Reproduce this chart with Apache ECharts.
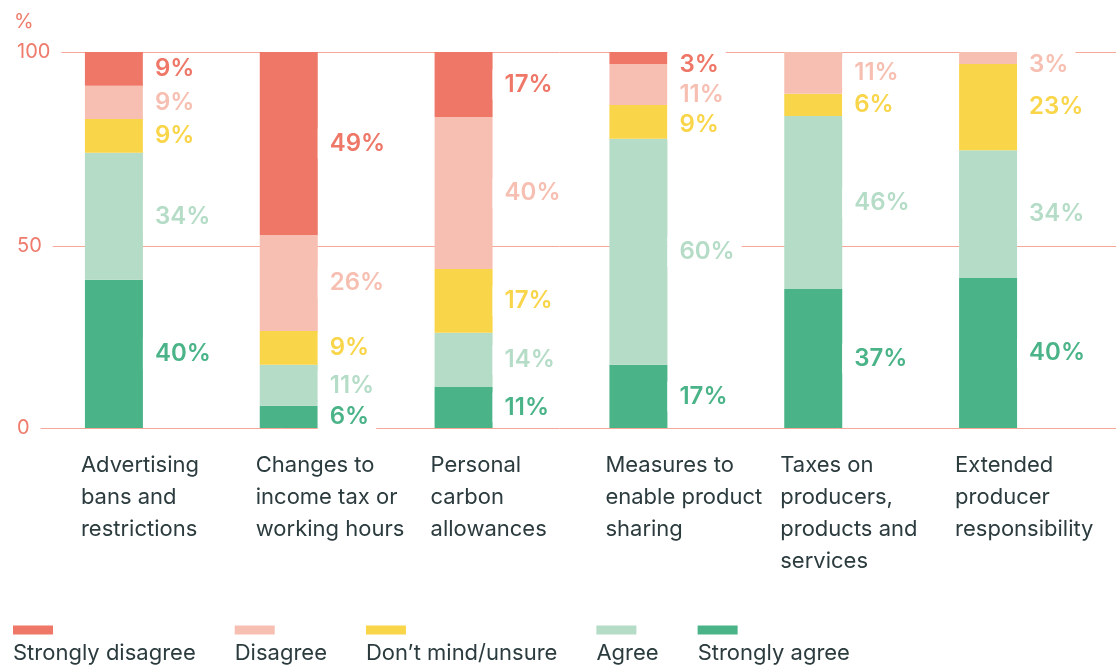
<!DOCTYPE html>
<html>
<head>
<meta charset="utf-8">
<script src="https://cdn.jsdelivr.net/npm/echarts@6/dist/echarts.min.js"></script>
<style>
  html, body { margin: 0; padding: 0; background: #ffffff; }
  #chart { width: 1116px; height: 666px; }
</style>
</head>
<body>
<div id="chart"></div>
<script>
// ---------- data ----------
const categories = [
  'Advertising\nbans and\nrestrictions',
  'Changes to\nincome tax or\nworking hours',
  'Personal\ncarbon\nallowances',
  'Measures to\nenable product\nsharing',
  'Taxes on\nproducers,\nproducts and\nservices',
  'Extended\nproducer\nresponsibility'
];
const seriesNames = ['Strongly agree', 'Agree', 'Don\u2019t mind/unsure', 'Disagree', 'Strongly disagree'];
const legendOrder = ['Strongly disagree', 'Disagree', 'Don\u2019t mind/unsure', 'Agree', 'Strongly agree'];

// bar segment sizes (share of bar height, %)
const stronglyAgree    = [39.4, 5.9, 10.9, 16.8, 37.0, 39.9];
const agree            = [33.8, 10.9, 14.4, 60.1, 46.0, 34.0];
const dontMind         = [9.0, 9.0, 17.0, 9.0, 5.9, 22.9];
const disagree         = [8.8, 25.5, 40.4, 10.9, 11.1, 3.2];
const stronglyDisagree = [9.0, 48.7, 17.3, 3.2, 0, 0];

// printed labels (%)
const lblStronglyAgree    = [40, 6, 11, 17, 37, 40];
const lblAgree            = [34, 11, 14, 60, 46, 34];
const lblDontMind         = [9, 9, 17, 9, 6, 23];
const lblDisagree         = [9, 26, 40, 11, 11, 3];
const lblStronglyDisagree = [9, 49, 17, 3, null, null];

// y axis ticks as drawn in the reference
const yTickValues = [0, 48.4, 100];
const yTickLabels = ['0', '50', '100'];

// ---------- styling ----------
const colors = ['#4AB388', '#B5DCC6', '#F9D54A', '#F7BFB2', '#EE7767'];
const FONT = 'Inter, "Noto Sans", sans-serif';
const TEXT_DARK = '#2B3B3E';
const AXIS_RED = '#EE7B6B';
const GRID_LINE = '#F6A797';

const values = [stronglyAgree, agree, dontMind, disagree, stronglyDisagree];
const labels = [lblStronglyAgree, lblAgree, lblDontMind, lblDisagree, lblStronglyDisagree];

// label de-overlap (in value units), top label clamped under the 100 line
const GAP = 8, TOP = 96.7;
const shifts = values.map(() => categories.map(() => 0));
categories.forEach((c, ci) => {
  let cum = 0; const centers = [];
  for (let s = 0; s < values.length; s++) { centers[s] = cum + values[s][ci] / 2; cum += values[s][ci]; }
  let prev = Infinity;
  for (let s = values.length - 1; s >= 0; s--) {
    if (labels[s][ci] == null) continue;
    const p = Math.min(centers[s], TOP, prev - GAP);
    shifts[s][ci] = centers[s] - p;
    prev = p;
  }
});

const series = seriesNames.map((name, s) => ({
  name,
  type: 'bar',
  stack: 'total',
  xAxisIndex: 1,
  yAxisIndex: 1,
  barWidth: 58,
  itemStyle: { color: colors[s] },
  data: values[s].map((v, i) => ({
    value: v,
    label: { show: labels[s][i] != null }
  })),
  label: {
    show: true,
    position: 'right',
    distance: 0,
    formatter: p => labels[s][p.dataIndex] == null ? '' : labels[s][p.dataIndex] + '%',
    color: colors[s],
    fontFamily: FONT,
    fontSize: 24,
    fontWeight: 600,
    lineHeight: 26,
    backgroundColor: '#ffffff',
    padding: [2, 7, 2, 12]
  },
  labelLayout: p => {
    const v = values[p.seriesIndex][p.dataIndex];
    if (!v) return {};
    const ppu = p.rect.height / v;
    return { dy: shifts[p.seriesIndex][p.dataIndex] * ppu };
  }
}));

const legendRich = { t: { fontFamily: FONT, fontSize: 22, lineHeight: 38, color: TEXT_DARK } };
legendOrder.forEach((n, i) => {
  const s = seriesNames.indexOf(n);
  legendRich['s' + i] = { width: 40, height: 9, lineHeight: 9, backgroundColor: colors[s] };
});

const chart = echarts.init(document.getElementById('chart'), null, { renderer: 'canvas' });
chart.setOption({
  animation: false,
  backgroundColor: '#ffffff',
  title: {
    text: '%',
    left: 14,
    top: 12,
    padding: 0,
    textStyle: { fontFamily: FONT, fontSize: 20, fontWeight: 'normal', color: AXIS_RED }
  },
  grid: [
    { left: 0, right: 0, top: 52, bottom: 238 },
    { left: 26.5, right: 40.5, top: 52, bottom: 238 }
  ],
  xAxis: [
    { gridIndex: 0, type: 'value', min: 0, max: 1, show: false },
    {
      gridIndex: 1,
      type: 'category',
      data: categories,
      axisLine: { show: false },
      axisTick: { show: false },
      axisLabel: {
        interval: 0,
        margin: 21,
        width: 66,
        overflow: 'none',
        align: 'center',
        fontFamily: FONT,
        fontSize: 22,
        lineHeight: 32,
        color: TEXT_DARK,
        formatter: v => v.split('\n').map(l => '{c|' + l + '}').join('\n'),
        rich: { c: { align: 'left', fontFamily: FONT, fontSize: 22, lineHeight: 32, color: TEXT_DARK } }
      }
    }
  ],
  yAxis: [
    {
      gridIndex: 0,
      type: 'value',
      min: 0,
      max: 100,
      axisLine: { show: false },
      axisTick: { show: false, customValues: yTickValues },
      splitLine: { show: true, lineStyle: { color: GRID_LINE, width: 1 } },
      axisLabel: {
        inside: true,
        margin: 0,
        customValues: yTickValues,
        formatter: v => yTickLabels[yTickValues.indexOf(v)],
        fontFamily: FONT,
        fontSize: 20,
        color: AXIS_RED,
        backgroundColor: '#ffffff',
        padding: [2, 11, 2, 14]
      }
    },
    { gridIndex: 1, type: 'value', min: 0, max: 100, show: false, splitLine: { show: false } }
  ],
  legend: {
    data: legendOrder,
    left: 8,
    top: 619,
    padding: 0,
    itemGap: 34,
    itemWidth: 0,
    itemHeight: 0,
    selectedMode: false,
    formatter: name => '{s' + legendOrder.indexOf(name) + '| }\n{t|' + name + '}',
    textStyle: { rich: legendRich, fontFamily: FONT, fontSize: 22, color: TEXT_DARK }
  },
  series
});
</script>
</body>
</html>
